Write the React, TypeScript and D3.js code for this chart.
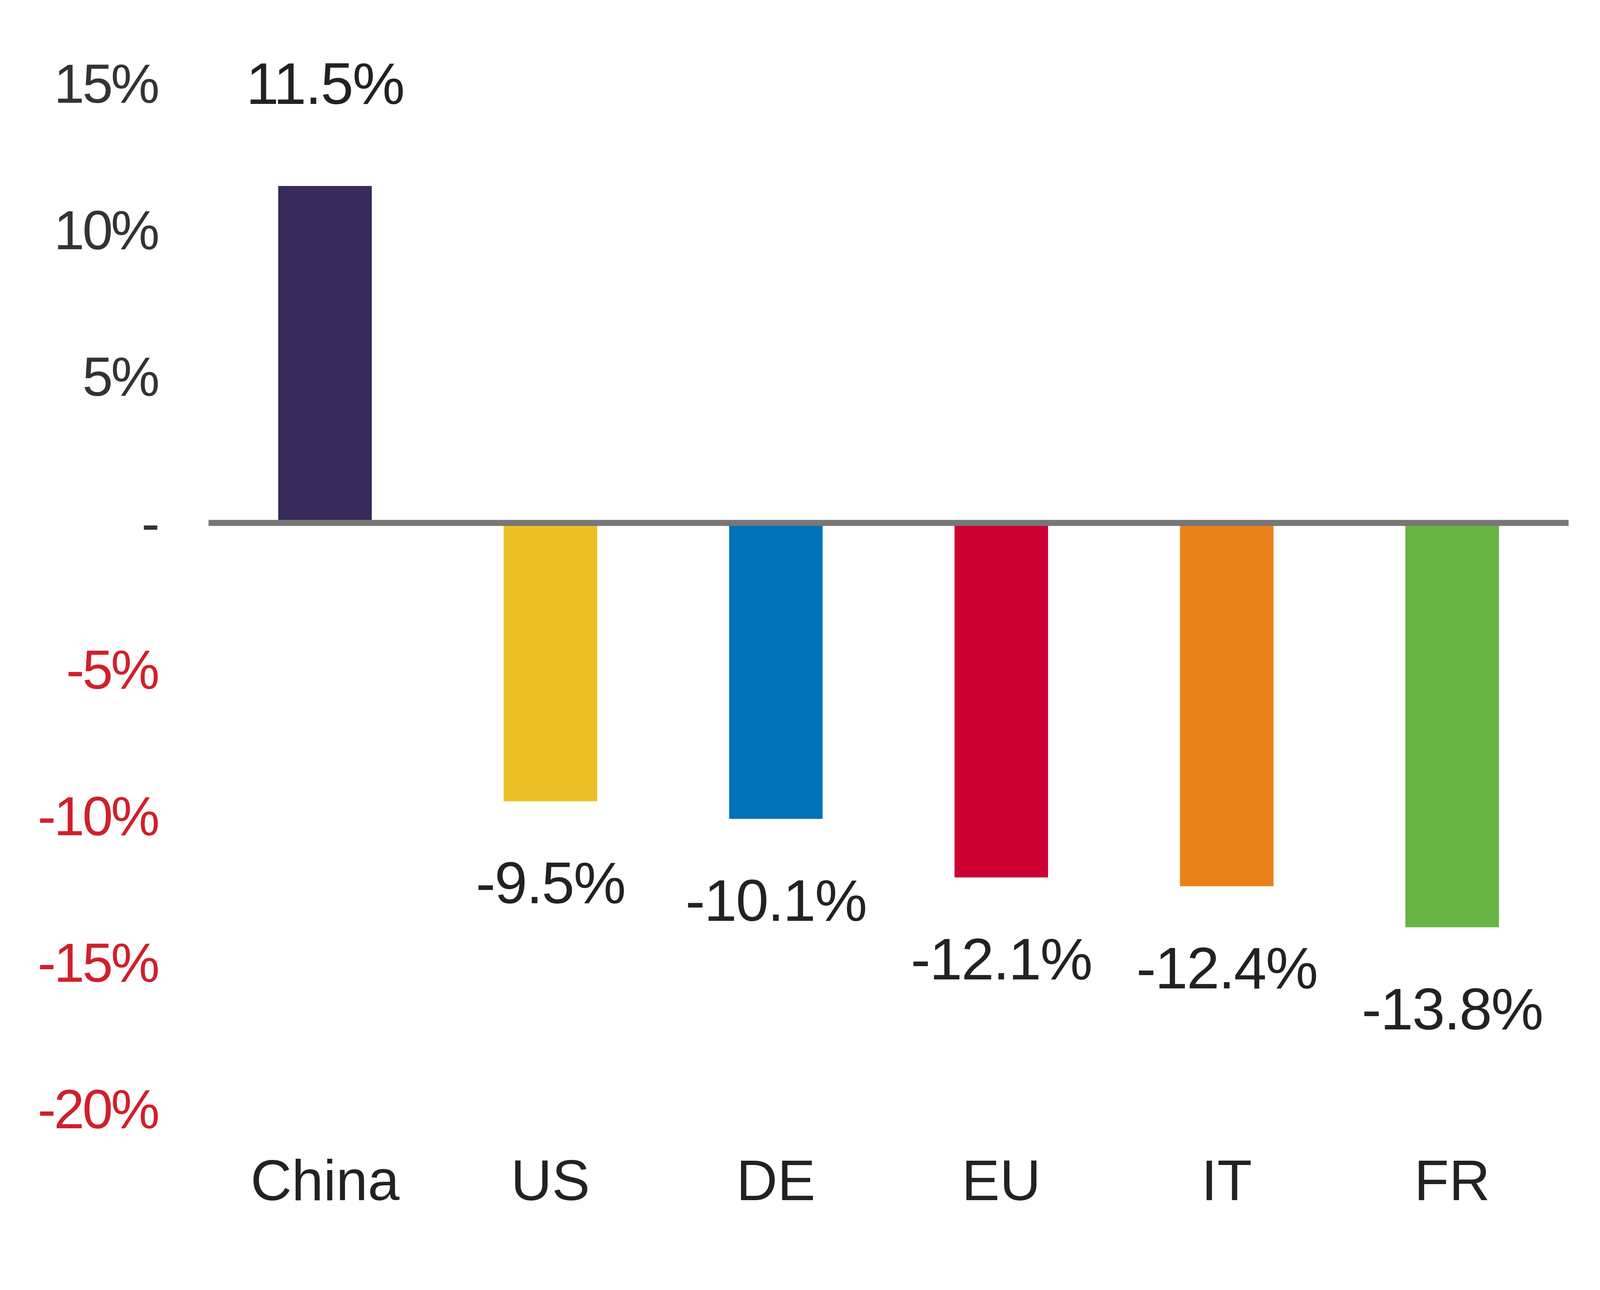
import * as React from 'react';
import * as d3 from 'd3';

const categories = ['China', 'US', 'DE', 'EU', 'IT', 'FR'];
const values = [11.5, -9.5, -10.1, -12.1, -12.4, -13.8];
const colors = ['#372a5a', '#ebbf24', '#0072b9', '#cc0033', '#e8821a', '#66b444'];
const ticks = [15, 10, 5, 0, -5, -10, -15, -20];

const W = 1622, H = 1268;

export default function App() {
  const y = d3.scaleLinear().domain([15, -20]).range([82, 1090]);
  const x = d3.scaleBand().domain(categories).range([207, 1540]).paddingInner(0.585).paddingOuter(0.3);
  const font = 'Liberation Sans, Arial, sans-serif';
  const fmt = (v: number) => (v === 0 ? '-' : `${v}%`);

  return (
    <svg width={4224} height={3302} viewBox={`0 0 ${W} ${H}`}
      style={{ position: 'absolute', left: 0, top: 0, background: '#fff' }} fontFamily={font}>
      {ticks.map(t => (
        <text key={t} x={155} y={y(t)} dy="0.35em" textAnchor="end" fontSize={54}
          fill={t < 0 ? '#d0202a' : '#333'} letterSpacing={-2}>{fmt(t)}</text>
      ))}
      {categories.map((c, i) => {
        const v = values[i];
        const x0 = x(c)!;
        const top = Math.min(y(v), y(0));
        const h = Math.abs(y(v) - y(0));
        const cx = x0 + x.bandwidth() / 2;
        return (
          <g key={c}>
            <rect x={x0} y={top} width={x.bandwidth()} height={h} fill={colors[i]} />
            <text x={cx} y={v > 0 ? y(15) : y(v) + 80} dy="0.35em" textAnchor="middle"
              fontSize={58} fill="#222" letterSpacing={-1}>{`${v}%`}</text>
            <text x={cx} y={1160} dy="0.35em" textAnchor="middle" fontSize={56} fill="#222">{c}</text>
          </g>
        );
      })}
      <line x1={205} x2={1542} y1={y(0)} y2={y(0)} stroke="#777" strokeWidth={6} />
    </svg>
  );
}
